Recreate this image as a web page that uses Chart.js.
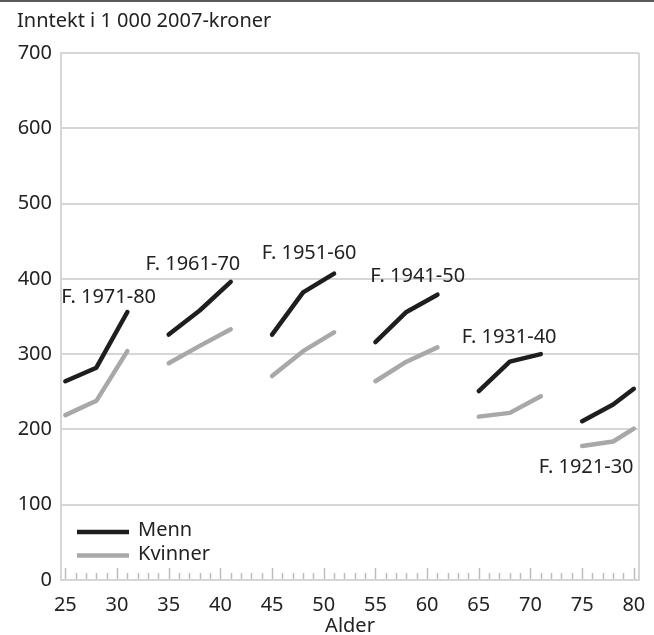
<!DOCTYPE html>
<html>
<head>
<meta charset="utf-8">
<script src="https://cdn.jsdelivr.net/npm/chart.js@4.4.1/dist/chart.umd.min.js"></script>
<style>
    html, body { margin: 0; padding: 0; background: #fff; }
    #wrap { width: 654px; height: 635px; position: relative; }
</style>
</head>
<body>
<div id="wrap"><canvas id="chart" width="654" height="635"></canvas></div>
<script>
// Cohorts and the ages at which each was observed
const cohorts = ["F. 1971-80", "F. 1961-70", "F. 1951-60", "F. 1941-50", "F. 1931-40", "F. 1921-30"];
const ages = [
    [25, 28, 31], [35, 38, 41], [45, 48, 51],
    [55, 58, 61], [65, 68, 71], [75, 78, 80]
];

// Income, 1 000 2007-kroner
const menn = [
    [264, 282, 356], [326, 358, 396], [326, 382, 407],
    [316, 356, 379], [251, 290, 300], [211, 233, 254]
];
const kvinner = [
    [219, 238, 304], [288, 311, 333], [271, 304, 329],
    [264, 290, 309], [217, 222, 244], [178, 184, 201]
];

const xTicks = [25, 30, 35, 40, 45, 50, 55, 60, 65, 70, 75, 80];

// where each cohort label sits (x = age at its left edge, y = value at its middle)
const labelAt = [
    [24.6, 375], [32.75, 419], [44.0, 434],
    [54.5, 404], [63.35, 323], [70.8, 150]
];

const FONT = "'Noto Sans', 'Open Sans', sans-serif";
const TEXT = "#222";
const GRID = "#d6d6d6";

// one dataset per sex, cohorts separated by a null point so the line breaks
function buildPoints(values) {
    const pts = [];
    values.forEach((row, i) => {
        row.forEach((v, j) => pts.push({ x: ages[i][j], y: v }));
        if (i < values.length - 1) pts.push({ x: (ages[i][2] + ages[i + 1][0]) / 2, y: null });
    });
    return pts;
}

const extras = {
    id: "extras",
    beforeDraw(chart) {
        const ctx = chart.ctx;
        ctx.save();
        ctx.fillStyle = "#fff";
        ctx.fillRect(0, 0, chart.width, chart.height);
        // rule across the top
        ctx.fillStyle = "#5a5a5a";
        ctx.fillRect(0, 0, chart.width, 2);
        ctx.restore();
    },
    beforeDatasetsDraw(chart) {
        const ctx = chart.ctx;
        const a = chart.chartArea;
        const x = chart.scales.x;
        ctx.save();
        // right frame line
        ctx.strokeStyle = GRID;
        ctx.lineWidth = 2;
        ctx.beginPath();
        ctx.moveTo(a.right, a.top);
        ctx.lineTo(a.right, a.bottom);
        ctx.stroke();
        // yearly tick marks pointing up from the x axis
        ctx.strokeStyle = "#bcbcbc";
        ctx.lineWidth = 1.5;
        for (let v = 25; v <= 80; v++) {
            const px = Math.round(x.getPixelForValue(v)) + 0.5;
            const len = v % 5 === 0 ? 11 : 6;
            ctx.beginPath();
            ctx.moveTo(px, a.bottom - 1);
            ctx.lineTo(px, a.bottom - 1 - len);
            ctx.stroke();
        }
        ctx.restore();
    },
    afterDatasetsDraw(chart) {
        const ctx = chart.ctx;
        const a = chart.chartArea;
        const x = chart.scales.x;
        const y = chart.scales.y;
        ctx.save();
        ctx.font = "20px " + FONT;
        ctx.fillStyle = TEXT;
        ctx.textAlign = "left";
        ctx.textBaseline = "middle";
        cohorts.forEach((c, i) => {
            ctx.fillText(c, x.getPixelForValue(labelAt[i][0]), y.getPixelForValue(labelAt[i][1]));
        });

        // legend inside the plot, bottom left
        chart.data.datasets.forEach((ds, i) => {
            const ly = a.bottom - 48 + i * 23.5;
            ctx.strokeStyle = ds.borderColor;
            ctx.lineWidth = 4.5;
            ctx.beginPath();
            ctx.moveTo(a.left + 16, ly);
            ctx.lineTo(a.left + 68, ly);
            ctx.stroke();
            ctx.fillText(ds.label, a.left + 77, ly - 1.5);
        });
        ctx.restore();
    }
};

new Chart(document.getElementById("chart"), {
    type: "line",
    data: {
        datasets: [
            { label: "Menn", data: buildPoints(menn), borderColor: "#1e1e1e" },
            { label: "Kvinner", data: buildPoints(kvinner), borderColor: "#a8a8a8" }
        ]
    },
    options: {
        responsive: false,
        animation: false,
        spanGaps: false,
        elements: {
            point: { radius: 0 },
            line: { borderWidth: 4.5, tension: 0, borderCapStyle: "round", borderJoinStyle: "round" }
        },
        layout: { padding: { left: 17, right: 15, top: 0, bottom: 0 } },
        plugins: {
            legend: { display: false },
            tooltip: { enabled: false },
            title: {
                display: true,
                text: "Inntekt i 1 000 2007-kroner",
                align: "start",
                color: TEXT,
                font: { family: FONT, size: 20, weight: "normal", lineHeight: 1.2 },
                padding: { top: 9.5, bottom: 19.5 }
            }
        },
        scales: {
            x: {
                type: "linear",
                min: 24.58,
                max: 80.5,
                afterBuildTicks: s => { s.ticks = xTicks.map(v => ({ value: v })); },
                afterFit: s => { s.height = 55; },
                grid: { display: false },
                border: { color: GRID, width: 2 },
                ticks: {
                    color: TEXT,
                    padding: 5,
                    autoSkip: false,
                    maxRotation: 0,
                    font: { family: FONT, size: 20, lineHeight: 1.2 }
                },
                title: {
                    display: true,
                    text: "Alder",
                    color: TEXT,
                    padding: { top: 0, bottom: -3 },
                    font: { family: FONT, size: 20, lineHeight: 1.2 }
                }
            },
            y: {
                min: 0,
                max: 700,
                afterFit: s => { s.width = 44; },
                grid: { color: GRID, lineWidth: 2, drawTicks: false },
                border: { color: GRID, width: 2 },
                ticks: {
                    stepSize: 100,
                    color: TEXT,
                    padding: 9,
                    font: { family: FONT, size: 20 }
                }
            }
        }
    },
    plugins: [extras]
});
</script>
</body>
</html>
